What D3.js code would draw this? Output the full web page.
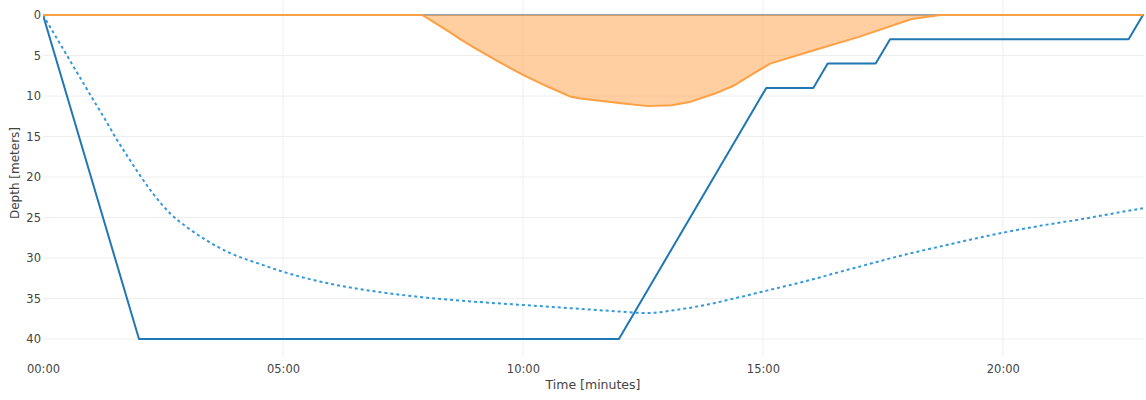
<!DOCTYPE html>
<html><head><meta charset="utf-8">
<script src="https://cdn.jsdelivr.net/npm/d3@7"></script>
<style>body{margin:0;background:#fff;} text{font-family:"DejaVu Sans",Verdana,sans-serif;}</style>
</head><body><svg id="c" width="1146" height="400"></svg>
<script>
// Dive profile (time in minutes, depth in meters)
const profT = [0, 2, 12, 15.07, 16.05, 16.35, 17.35, 17.65, 22.62, 22.92];
const profD = [0, 40, 40, 9, 9, 6, 6, 3, 3, 0];
// Dotted tissue curve
const tissT = [0, 0.5, 1.0, 1.28, 1.53, 1.8, 2.02, 2.3, 2.65, 3.0, 3.4, 3.9, 4.5, 5.0, 6.0, 7.0, 8.0, 9.0, 10.0, 11.0, 12.0, 12.6, 13.2, 13.8, 14.4, 15.1, 15.8, 16.8, 17.85, 18.9, 19.94, 20.8, 21.64, 22.3, 22.92];
const tissD = [0, 5, 10, 12.75, 15.3, 17.8, 19.8, 22.1, 24.5, 26.2, 27.8, 29.4, 30.7, 31.7, 33.2, 34.2, 34.9, 35.4, 35.8, 36.2, 36.6, 36.8, 36.4, 35.8, 35.0, 34.0, 33.0, 31.4, 29.75, 28.3, 26.95, 26.0, 25.2, 24.5, 23.86];
// Ceiling (filled area)
const ceilT = [0, 7.9, 8.2, 8.5, 8.7, 9.0, 9.5, 10.0, 10.5, 11.0, 11.2, 11.6, 12.0, 12.6, 13.1, 13.5, 14.0, 14.4, 14.8, 15.15, 16.1, 17.0, 18.1, 18.7, 22.92];
const ceilD = [0, 0, 1.1, 2.2, 3.0, 4.1, 5.8, 7.4, 8.8, 10.1, 10.3, 10.6, 10.85, 11.25, 11.15, 10.7, 9.7, 8.7, 7.25, 6.0, 4.3, 2.7, 0.5, 0, 0];
const xTicks = [0, 5, 10, 15, 20];
const yTicks = [0, 5, 10, 15, 20, 25, 30, 35, 40];

const svg = d3.select("#c");
const L = 43, R = 1143, T = 0, B = 356;
const x = d3.scaleLinear().domain([0, 22.92]).range([L, R]);
const y = d3.scaleLinear().domain([0, 40]).range([15, 339]);
const fmt = m => String(Math.floor(m)).padStart(2, "0") + ":" + String(Math.round((m % 1) * 60)).padStart(2, "0");

svg.append("defs").append("clipPath").attr("id", "clip").append("rect")
  .attr("x", L).attr("y", T).attr("width", R - L + 1).attr("height", B - T);

// grid
const g = svg.append("g");
g.selectAll(".vg").data(xTicks.filter(d => d > 0)).join("line")
  .attr("x1", d => x(d)).attr("x2", d => x(d)).attr("y1", T).attr("y2", B)
  .attr("stroke", "#eee").attr("stroke-width", 1);
g.selectAll(".hg").data(yTicks.filter(d => d > 0)).join("line")
  .attr("x1", L).attr("x2", R + 1).attr("y1", d => y(d)).attr("y2", d => y(d))
  .attr("stroke", "#eee").attr("stroke-width", 1);
// zero line
g.append("line").attr("x1", L).attr("x2", R + 1).attr("y1", y(0)).attr("y2", y(0))
  .attr("stroke", "#444").attr("stroke-width", 1);

// axes using d3 axes (no domain lines)
const xAxis = svg.append("g").attr("transform", `translate(0,${B})`)
  .call(d3.axisBottom(x).tickValues(xTicks).tickFormat(fmt).tickSize(0).tickPadding(9));
const yAxis = svg.append("g").attr("transform", `translate(${L},0)`)
  .call(d3.axisLeft(y).tickValues(yTicks).tickFormat(d3.format("d")).tickSize(0).tickPadding(2));
[xAxis, yAxis].forEach(a => {
  a.select(".domain").remove();
  a.selectAll("text").attr("fill", "#444").style("font-size", "11.5px").style("font-family", "DejaVu Sans, Verdana, sans-serif");
});

const plot = svg.append("g").attr("clip-path", "url(#clip)");
const profile = profT.map((t, i) => [t, profD[i]]);
const tissue = tissT.map((t, i) => [t, tissD[i]]);
const ceil = ceilT.map((t, i) => [t, ceilD[i]]);

plot.append("path").datum(profile)
  .attr("d", d3.line().x(d => x(d[0])).y(d => y(d[1])))
  .attr("fill", "none").attr("stroke", "#1f77b4").attr("stroke-width", 2).attr("stroke-linejoin", "round");
plot.append("path").datum(tissue)
  .attr("d", d3.line().curve(d3.curveMonotoneX).x(d => x(d[0])).y(d => y(d[1])))
  .attr("fill", "none").attr("stroke", "#3498db").attr("stroke-width", 2).attr("stroke-dasharray", "3,3");
plot.append("path").datum(ceil)
  .attr("d", d3.area().x(d => x(d[0])).y0(y(0)).y1(d => y(d[1])))
  .attr("fill", "#ff9f43").attr("fill-opacity", 0.5).attr("stroke", "none");
plot.append("path").datum(ceil)
  .attr("d", d3.line().x(d => x(d[0])).y(d => y(d[1])))
  .attr("fill", "none").attr("stroke", "#ff9f43").attr("stroke-width", 2).attr("stroke-linejoin", "round");

// titles
svg.append("text").attr("x", (L + R) / 2).attr("y", 389).attr("text-anchor", "middle")
  .attr("fill", "#444").style("font-size", "12.5px").text("Time [minutes]");
svg.append("text").attr("transform", "translate(19,173) rotate(-90)").attr("text-anchor", "middle")
  .attr("fill", "#444").style("font-size", "12px").text("Depth [meters]");
</script></body></html>
